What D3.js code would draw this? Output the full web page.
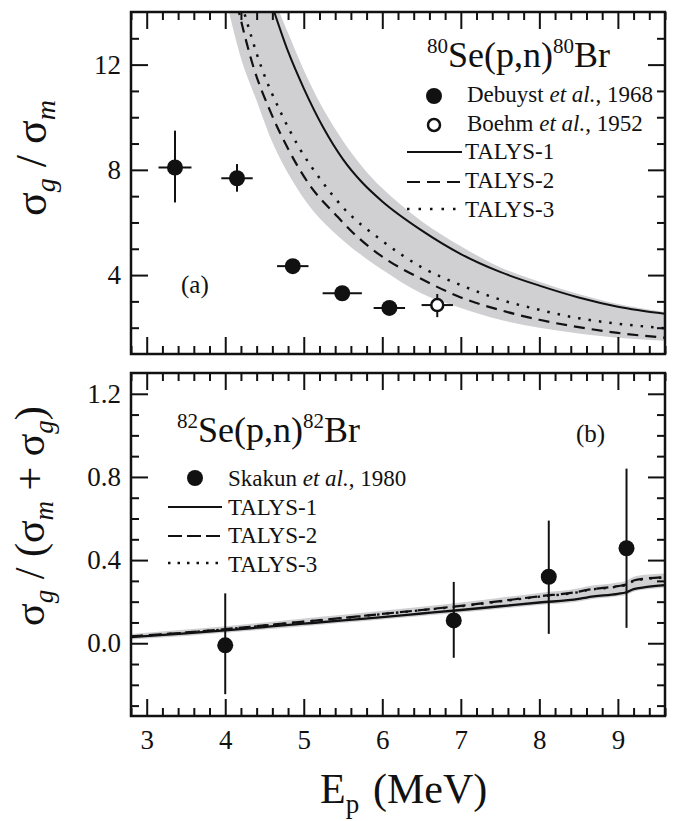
<!DOCTYPE html>
<html><head><meta charset="utf-8">
<script src="https://cdn.jsdelivr.net/npm/d3@7/dist/d3.min.js"></script>
<style>body{margin:0;background:#fff}svg text{font-family:"Liberation Serif","Times New Roman",serif;fill:#111}</style>
</head><body><svg id="c" width="675" height="821" font-family="Liberation Serif"></svg>
<script>
// ---------- data ----------
const xTicks = [3,4,5,6,7,8,9];
const topYTicks = [4,8,12];
const botYTicks = [0.0,0.4,0.8,1.2];

// panel (a): 80Se(p,n)80Br  sigma_g / sigma_m
const debE   = [3.36, 4.15, 4.86, 5.49, 6.09];
const debV   = [8.09, 7.68, 4.34, 3.31, 2.75];
const debVlo = [6.76, 7.17, 4.15, 3.15, 2.60];
const debVhi = [9.49, 8.22, 4.55, 3.47, 2.90];
const debEerr= [0.21, 0.20, 0.20, 0.25, 0.20];
const boeE   = [6.70];
const boeV   = [2.86];
const boeVlo = [2.40];
const boeVhi = [3.28];
const boeEerr= [0.20];

const t1E = [4.58, 4.8, 5.0, 5.25, 5.5, 5.75, 6.0, 6.5, 7.0, 7.5, 8.0, 8.5, 9.0, 9.6];
const t1V = [14.4, 12.5, 11.1, 9.6, 8.4, 7.5, 6.8, 5.7, 4.8, 4.12, 3.6, 3.15, 2.8, 2.53];
const t2E = [4.15, 4.36, 4.57, 4.8, 5.08, 5.42, 5.63, 6.0, 6.5, 7.0, 7.5, 8.0, 8.5, 9.0, 9.6];
const t2V = [14.3, 11.9, 10.25, 8.8, 7.4, 6.25, 5.6, 4.7, 3.85, 3.15, 2.67, 2.3, 2.02, 1.8, 1.62];
const t3E = [4.21, 4.46, 4.72, 4.95, 5.21, 5.5, 6.0, 6.5, 7.0, 7.5, 8.0, 8.5, 9.0, 9.6];
const t3V = [14.3, 11.9, 10.1, 8.8, 7.65, 6.57, 5.3, 4.3, 3.62, 3.07, 2.68, 2.36, 2.15, 1.98];
const bandUpE = [4.62, 4.8, 5.0, 5.25, 5.5, 5.75, 6.0, 6.5, 7.0, 7.5, 8.0, 8.5, 9.0, 9.6];
const bandUpV = [14.5, 13.2, 11.8, 10.3, 9.1, 8.1, 7.3, 6.05, 5.1, 4.3, 3.75, 3.28, 2.9, 2.6];
const bandLoE = [4.0, 4.21, 4.4, 4.61, 4.83, 5.12, 5.46, 5.72, 6.0, 6.5, 7.0, 7.5, 8.0, 8.5, 9.0, 9.6];
const bandLoV = [14.6, 12.15, 10.63, 8.98, 7.71, 6.44, 5.42, 4.79, 4.2, 3.3, 2.75, 2.3, 2.0, 1.78, 1.62, 1.5];

// panel (b): 82Se(p,n)82Br  sigma_g / (sigma_m + sigma_g)
const skE  = [4.0, 6.91, 8.12, 9.11];
const skV  = [-0.01, 0.11, 0.32, 0.457];
const skLo = [-0.245, -0.07, 0.045, 0.074];
const skHi = [0.24, 0.295, 0.59, 0.84];
const bE   = [2.8, 3.5, 4.0, 4.5, 5.0, 5.5, 6.0, 6.5, 7.0, 7.5, 8.0, 8.5, 8.6, 9.0, 9.1, 9.2, 9.35, 9.6];
const bT1  = [0.030,0.047,0.062,0.078,0.094,0.110,0.126,0.143,0.160,0.178,0.196,0.213,0.220,0.238,0.244,0.260,0.270,0.280];
const bT2  = [0.033,0.052,0.068,0.086,0.104,0.122,0.141,0.160,0.180,0.203,0.226,0.248,0.256,0.275,0.282,0.302,0.311,0.318];
const bT3  = [0.032,0.051,0.067,0.085,0.103,0.121,0.140,0.159,0.178,0.201,0.224,0.246,0.254,0.273,0.280,0.299,0.309,0.316];
const bLo  = [0.018,0.035,0.050,0.066,0.082,0.098,0.114,0.131,0.148,0.166,0.184,0.201,0.208,0.226,0.232,0.248,0.258,0.268];
const bHi  = [0.045,0.066,0.082,0.100,0.119,0.137,0.156,0.175,0.196,0.219,0.242,0.264,0.273,0.292,0.300,0.320,0.330,0.336];

// ---------- layout ----------
const FONT = '"Liberation Serif","Times New Roman",serif';
const svg = d3.select("#c");
const L = 131, R = 665;
const PA = {top:12, bottom:354};
const PB = {top:373, bottom:716};
const x = d3.scaleLinear().domain([2.8, 9.6]).range([L, R]);
const yA = d3.scaleLinear().domain([1, 14]).range([PA.bottom, PA.top]);
const yB = d3.scaleLinear().domain([-0.35, 1.3]).range([PB.bottom, PB.top]);
const xMinor = d3.range(2.8, 9.61, 0.2).map(v=>+v.toFixed(1)).filter(v=>Math.abs(v-Math.round(v))>0.01);
const GREY = "#d0d0d3";

const defs = svg.append("defs");
defs.append("clipPath").attr("id","clipA").append("rect").attr("x",L).attr("y",PA.top).attr("width",R-L).attr("height",PA.bottom-PA.top);
defs.append("clipPath").attr("id","clipB").append("rect").attr("x",L).attr("y",PB.top).attr("width",R-L).attr("height",PB.bottom-PB.top);

function zip(a,b){return a.map((v,i)=>[v,b[i]]);}

function axes(y, P, majorY, minorY, showX, fmt){
  const g = svg.append("g");
  const MAJ = 17, MIN = 8;
  const add = (axis, tr) => {
    const a = g.append("g").attr("transform", tr).call(axis);
    a.attr("font-family", FONT);
    a.select(".domain").remove();
    a.selectAll("line").attr("stroke","#111").attr("stroke-width",2);
    a.selectAll("text").attr("font-size",27).attr("fill","#111").attr("font-family",FONT);
    return a;
  };
  add(d3.axisBottom(x).tickValues(xTicks).tickSize(-MAJ).tickPadding(14).tickFormat(showX? d3.format("d") : ""), `translate(0,${P.bottom})`);
  add(d3.axisBottom(x).tickValues(xMinor).tickSize(-MIN).tickFormat(""), `translate(0,${P.bottom})`);
  add(d3.axisTop(x).tickValues(xTicks).tickSize(-MAJ).tickFormat(""), `translate(0,${P.top})`);
  add(d3.axisTop(x).tickValues(xMinor).tickSize(-MIN).tickFormat(""), `translate(0,${P.top})`);
  add(d3.axisLeft(y).tickValues(majorY).tickSize(-MAJ).tickPadding(10).tickFormat(fmt), `translate(${L},0)`);
  add(d3.axisLeft(y).tickValues(minorY).tickSize(-MIN).tickFormat(""), `translate(${L},0)`);
  add(d3.axisRight(y).tickValues(majorY).tickSize(-MAJ).tickFormat(""), `translate(${R},0)`);
  add(d3.axisRight(y).tickValues(minorY).tickSize(-MIN).tickFormat(""), `translate(${R},0)`);
  g.append("rect").attr("x",L).attr("y",P.top).attr("width",R-L).attr("height",P.bottom-P.top)
    .attr("fill","none").attr("stroke","#111").attr("stroke-width",2.5);
}

// ---------- panel (a) ----------
const gA = svg.append("g").attr("clip-path","url(#clipA)");
const lineA = d3.line().x(d=>x(d[0])).y(d=>yA(d[1])).curve(d3.curveMonotoneX);
const polyA = d3.line().x(d=>x(d[0])).y(d=>yA(d[1])).curve(d3.curveCatmullRom);
gA.append("path").attr("d", polyA(zip(bandUpE,bandUpV)) + "L" + polyA(zip(bandLoE,bandLoV).reverse()).slice(1) + "Z")
  .attr("fill",GREY).attr("stroke","none");
gA.append("path").attr("d",lineA(zip(t1E,t1V))).attr("fill","none").attr("stroke","#111").attr("stroke-width",2);
gA.append("path").attr("d",lineA(zip(t2E,t2V))).attr("fill","none").attr("stroke","#111").attr("stroke-width",2.2).attr("stroke-dasharray","11,7");
gA.append("path").attr("d",lineA(zip(t3E,t3V))).attr("fill","none").attr("stroke","#111").attr("stroke-width",2.5).attr("stroke-dasharray","2.5,8");

const minorA = d3.range(2,14).filter(v=>v%4!==0);
axes(yA, PA, topYTicks, minorA, false, d3.format("d"));

function points(g, y, E, V, lo, hi, eerr, open){
  E.forEach((e,i)=>{
    g.append("line").attr("x1",x(e)).attr("x2",x(e)).attr("y1",y(lo[i])).attr("y2",y(hi[i])).attr("stroke","#111").attr("stroke-width",2);
    if (eerr) g.append("line").attr("x1",x(e-eerr[i])).attr("x2",x(e+eerr[i])).attr("y1",y(V[i])).attr("y2",y(V[i])).attr("stroke","#111").attr("stroke-width",2);
    if (open) g.append("circle").attr("cx",x(e)).attr("cy",y(V[i])).attr("r",6).attr("fill","#fff").attr("stroke","#111").attr("stroke-width",2.5);
    else g.append("circle").attr("cx",x(e)).attr("cy",y(V[i])).attr("r",8).attr("fill","#111");
  });
}
points(svg.append("g"), yA, debE, debV, debVlo, debVhi, debEerr, false);
points(svg.append("g"), yA, boeE, boeV, boeVlo, boeVhi, boeEerr, true);

// legend (a)
function reaction(xp, yp, A){
  const t = svg.append("text").attr("x",xp).attr("y",yp).attr("font-size",36).attr("font-family",FONT);
  t.append("tspan").text(A).attr("font-size",21).attr("dy",-14);
  t.append("tspan").text("Se(p,n)").attr("dy",14);
  t.append("tspan").text(A).attr("font-size",21).attr("dy",-14);
  t.append("tspan").text("Br").attr("dy",14);
}
function refText(xp, yp, name, yr){
  const t = svg.append("text").attr("x",xp).attr("y",yp).attr("font-size",23).attr("font-family",FONT);
  t.append("tspan").text(name+" ");
  t.append("tspan").text("et al.").attr("font-style","italic");
  t.append("tspan").text(", "+yr);
}
reaction(427, 67, "80");
svg.append("circle").attr("cx",434).attr("cy",96).attr("r",8).attr("fill","#111");
refText(467, 102, "Debuyst", "1968");
svg.append("circle").attr("cx",434).attr("cy",125).attr("r",6).attr("fill","#fff").attr("stroke","#111").attr("stroke-width",2.5);
refText(467, 131, "Boehm", "1952");
const legA = [["TALYS-1",null,2,152,159],["TALYS-2","13,7",2,182,188],["TALYS-3","2.5,9",2.5,209,217]];
legA.forEach(([lab,da,sw,ly,ty])=>{
  const l = svg.append("line").attr("x1",407).attr("x2",462).attr("y1",ly).attr("y2",ly).attr("stroke","#111").attr("stroke-width",sw);
  if (da) l.attr("stroke-dasharray",da);
  svg.append("text").attr("x",465).attr("y",ty).attr("font-size",23).attr("font-family",FONT).text(lab);
});
svg.append("text").attr("x",181).attr("y",293).attr("font-size",25).attr("font-family",FONT).text("(a)");

// ---------- panel (b) ----------
const gB = svg.append("g").attr("clip-path","url(#clipB)");
const areaB = d3.area().x((d,i)=>x(bE[i])).y0((d,i)=>yB(bLo[i])).y1((d,i)=>yB(bHi[i])).curve(d3.curveMonotoneX);
gB.append("path").attr("d",areaB(bE)).attr("fill",GREY);
const lineB = d3.line().x(d=>x(d[0])).y(d=>yB(d[1])).curve(d3.curveMonotoneX);
gB.append("path").attr("d",lineB(zip(bE,bT1))).attr("fill","none").attr("stroke","#111").attr("stroke-width",2.3);
gB.append("path").attr("d",lineB(zip(bE,bT2))).attr("fill","none").attr("stroke","#111").attr("stroke-width",2.2).attr("stroke-dasharray","12,6");
gB.append("path").attr("d",lineB(zip(bE,bT3))).attr("fill","none").attr("stroke","#111").attr("stroke-width",2.3).attr("stroke-dasharray","2.5,7");

const minorB = d3.range(-3,13).map(v=>+(v/10).toFixed(1)).filter(v=>Math.abs(v*10)%4!==0);
axes(yB, PB, botYTicks, minorB, true, d3.format(".1f"));
points(svg.append("g"), yB, skE, skV, skLo, skHi, null, false);

reaction(177, 442, "82");
svg.append("text").attr("x",576).attr("y",442).attr("font-size",25).attr("font-family",FONT).text("(b)");
svg.append("circle").attr("cx",195).attr("cy",478).attr("r",8).attr("fill","#111");
refText(228, 486, "Skakun", "1980");
const legB = [["TALYS-1",null,2,507,515],["TALYS-2","14,5",2,536,543],["TALYS-3","2.5,7",2.5,563,572]];
legB.forEach(([lab,da,sw,ly,ty])=>{
  const l = svg.append("line").attr("x1",168).attr("x2",222).attr("y1",ly).attr("y2",ly).attr("stroke","#111").attr("stroke-width",sw);
  if (da) l.attr("stroke-dasharray",da);
  svg.append("text").attr("x",228).attr("y",ty).attr("font-size",23).attr("font-family",FONT).text(lab);
});

// ---------- axis titles ----------
function sig(t, sub, main, subSize){
  t.append("tspan").text("σ").attr("font-size",main);
  t.append("tspan").text(sub).attr("font-size",subSize).attr("font-style","italic").attr("dy",9);
}
{
  const t = svg.append("text").attr("transform","translate(46,158) rotate(-90)").attr("text-anchor","middle").attr("font-family",FONT);
  sig(t,"g",44,28);
  t.append("tspan").text(" / ").attr("font-size",44).attr("dy",-9);
  sig(t,"m",44,28);
}
{
  const t = svg.append("text").attr("transform","translate(44,516) rotate(-90)").attr("text-anchor","middle").attr("font-family",FONT);
  sig(t,"g",42,27);
  t.append("tspan").text(" / (").attr("font-size",42).attr("dy",-9);
  sig(t,"m",42,27);
  t.append("tspan").text(" + ").attr("font-size",42).attr("dy",-9);
  sig(t,"g",42,27);
  t.append("tspan").text(")").attr("font-size",42).attr("dy",-9);
}
{
  const t = svg.append("text").attr("x",320).attr("y",803).attr("font-family",FONT);
  t.append("tspan").text("E").attr("font-size",42);
  t.append("tspan").text("p").attr("font-size",27).attr("dy",10);
  t.append("tspan").text("(MeV)").attr("font-size",42).attr("x",373).attr("dy",-10);
}
</script></body></html>
